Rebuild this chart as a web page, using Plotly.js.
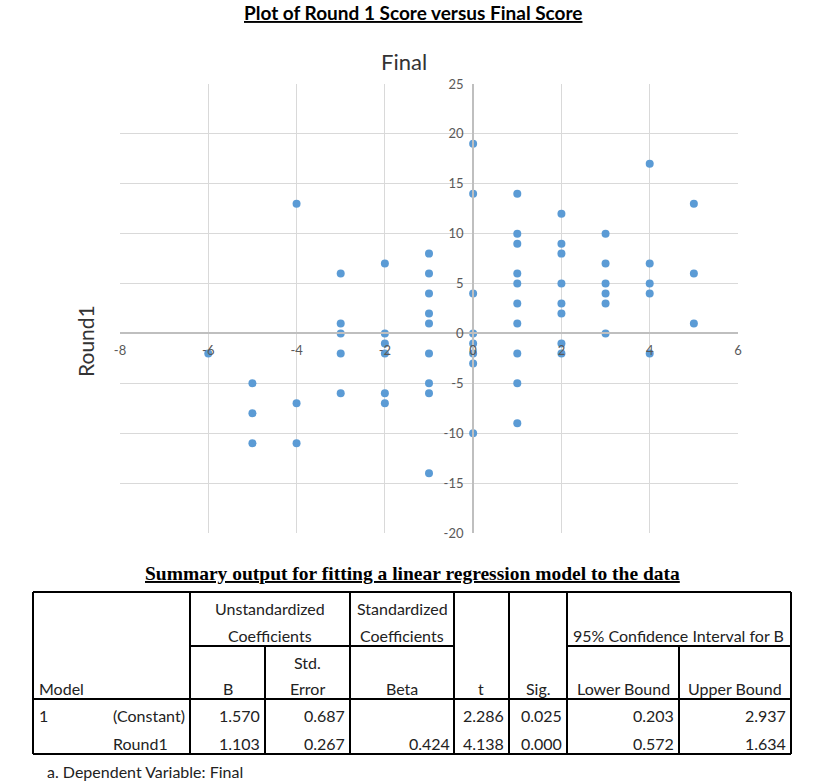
<!DOCTYPE html>
<html><head><meta charset="utf-8">
<script src="https://cdn.plot.ly/plotly-3.0.1.min.js"></script>
<style>html,body{margin:0;padding:0;background:#fff;} #chart{width:820px;height:784px;}</style>
</head><body><div id="chart"></div>
<script>
// Scatter data (horizontal value, vertical value)
const xValues = [-6,
  -5,-5,-5,
  -4,-4,-4,
  -3,-3,-3,-3,-3,
  -2,-2,-2,-2,-2,-2,
  -1,-1,-1,-1,-1,-1,-1,-1,-1,
  0,0,0,0,0,0,0,0,
  1,1,1,1,1,1,1,1,1,1,
  2,2,2,2,2,2,2,2,
  3,3,3,3,3,3,
  4,4,4,4,4,
  5,5,5];
const yValues = [-2,
  -5,-8,-11,
  13,-7,-11,
  6,1,0,-2,-6,
  7,0,-1,-2,-6,-7,
  8,6,4,2,1,-2,-5,-6,-14,
  19,14,4,0,-1,-2,-3,-10,
  14,10,9,6,5,3,1,-2,-5,-9,
  12,9,8,5,3,2,-1,-2,
  10,7,5,4,3,0,
  17,7,5,4,-2,
  13,6,1];
const xTicks = [-8,-6,-4,-2,0,2,4,6];
const yTicks = [-20,-15,-10,-5,0,5,10,15,20,25];

// Regression table
const modelNum = ['1',''];
const rowLabels = ['(Constant)','Round1'];
const coefB = ['1.570','1.103'];
const stdErr = ['0.687','0.267'];
const betaStd = ['','0.424'];
const tStat = ['2.286','4.138'];
const sigVal = ['0.025','0.000'];
const lowerCI = ['0.203','0.572'];
const upperCI = ['2.937','1.634'];

const W = 820, H = 784, ML = 120, MR = 82, MT = 84, MB = 251;
const PW = W - ML - MR, PH = H - MT - MB;
const px = x => (x - ML) / PW;
const py = y => (H - MB - y) / PH;

const FONT = 'Lato, "Open Sans", sans-serif';
const TS = 16;
const annotations = [];
const shapes = [];
function txt(x, y, text, opts) {
  opts = opts || {};
  annotations.push({
    xref: 'paper', yref: 'paper', x: px(x), y: py(y), text: text,
    showarrow: false, xanchor: opts.xa || 'center', yanchor: 'middle',
    textangle: opts.angle || 0,
    font: {family: opts.family || FONT, size: opts.size || TS, color: opts.color || '#222'}
  });
}
function line(x0, y0, x1, y1, w) {
  shapes.push({type: 'line', xref: 'paper', yref: 'paper',
    x0: px(x0), y0: py(y0), x1: px(x1), y1: py(y1),
    line: {color: '#000', width: w || 2}});
}

// Headings
txt(413, 13, '<u><b>Plot of Round 1 Score versus Final Score</b></u>', {size: 19, color: '#000'});
txt(404, 62, 'Final', {size: 22, color: '#333'});
txt(85, 341, 'Round1', {size: 21, color: '#333', angle: -90});
txt(412, 573, '<u><b>Summary output for fitting a linear regression model to the data</b></u>', {size: 19.5, color: '#000', family: '"Liberation Serif", serif'});

// Table lines
const T = 592, M = 646, HB = 699, B = 754, Lx = 33, Rx = 791;
line(Lx, T, Rx, T); line(Lx, B, Rx, B); line(Lx, T, Lx, B); line(Rx, T, Rx, B);
line(Lx, HB, Rx, HB);
[190, 350, 454, 509, 567].forEach(x => line(x, T, x, B));
[265, 679].forEach(x => line(x, M, x, B));
line(190, M, 454, M); line(567, M, Rx, M);

// Header text
txt(270, 608, 'Unstandardized'); txt(270, 635, 'Coefficients');
txt(402, 608, 'Standardized'); txt(402, 635, 'Coefficients');
txt(678, 635, '95% Confidence Interval for B');
txt(307, 662, 'Std.'); txt(307, 688, 'Error');
txt(37, 688, 'Model', {xa: 'left'});
txt(228, 688, 'B'); txt(402, 688, 'Beta'); txt(481, 688, 't'); txt(538, 688, 'Sig.');
txt(623, 688, 'Lower Bound'); txt(735, 688, 'Upper Bound');

// Body
const rowY = [716, 743];
const numCols = [[coefB, 262], [stdErr, 347], [betaStd, 452], [tStat, 506], [sigVal, 564], [lowerCI, 676], [upperCI, 788]];
for (let i = 0; i < rowLabels.length; i++) {
  if (modelNum[i]) txt(37, rowY[i], modelNum[i], {xa: 'left'});
  txt(111, rowY[i], rowLabels[i], {xa: 'left'});
  numCols.forEach(([arr, xr]) => { if (arr[i]) txt(xr, rowY[i], arr[i], {xa: 'right'}); });
}
txt(45, 771, 'a. Dependent Variable: Final', {xa: 'left'});

const trace = {
  type: 'scatter', mode: 'markers', x: xValues, y: yValues,
  marker: {color: '#5b9bd5', size: 8}, cliponaxis: false, hoverinfo: 'x+y'
};

const layout = {
  width: W, height: H,
  margin: {l: ML, r: MR, t: MT, b: MB, pad: 0},
  paper_bgcolor: '#fff', plot_bgcolor: '#fff',
  showlegend: false,
  font: {family: FONT, color: '#595959', size: 13},
  xaxis: {
    range: [-8, 6], tickvals: xTicks, ticktext: xTicks.map(String),
    showgrid: true, gridcolor: '#d9d9d9', gridwidth: 1,
    zeroline: false, showline: true, linecolor: '#bfbfbf', linewidth: 2,
    anchor: 'free', position: 20 / 45, ticks: '', ticklabelstandoff: 5,
    tickfont: {size: 13, color: '#595959'}
  },
  yaxis: {
    range: [-20, 25], tickvals: yTicks, ticktext: yTicks.map(String),
    showgrid: true, gridcolor: '#d9d9d9', gridwidth: 1,
    zeroline: false, showline: true, linecolor: '#bfbfbf', linewidth: 2,
    anchor: 'free', position: 8 / 14, ticks: '', ticklabelstandoff: 6,
    tickfont: {size: 13, color: '#595959'}
  },
  shapes: shapes,
  annotations: annotations
};

Plotly.newPlot('chart', [trace], layout, {displayModeBar: false, staticPlot: true});
</script>
</body></html>
